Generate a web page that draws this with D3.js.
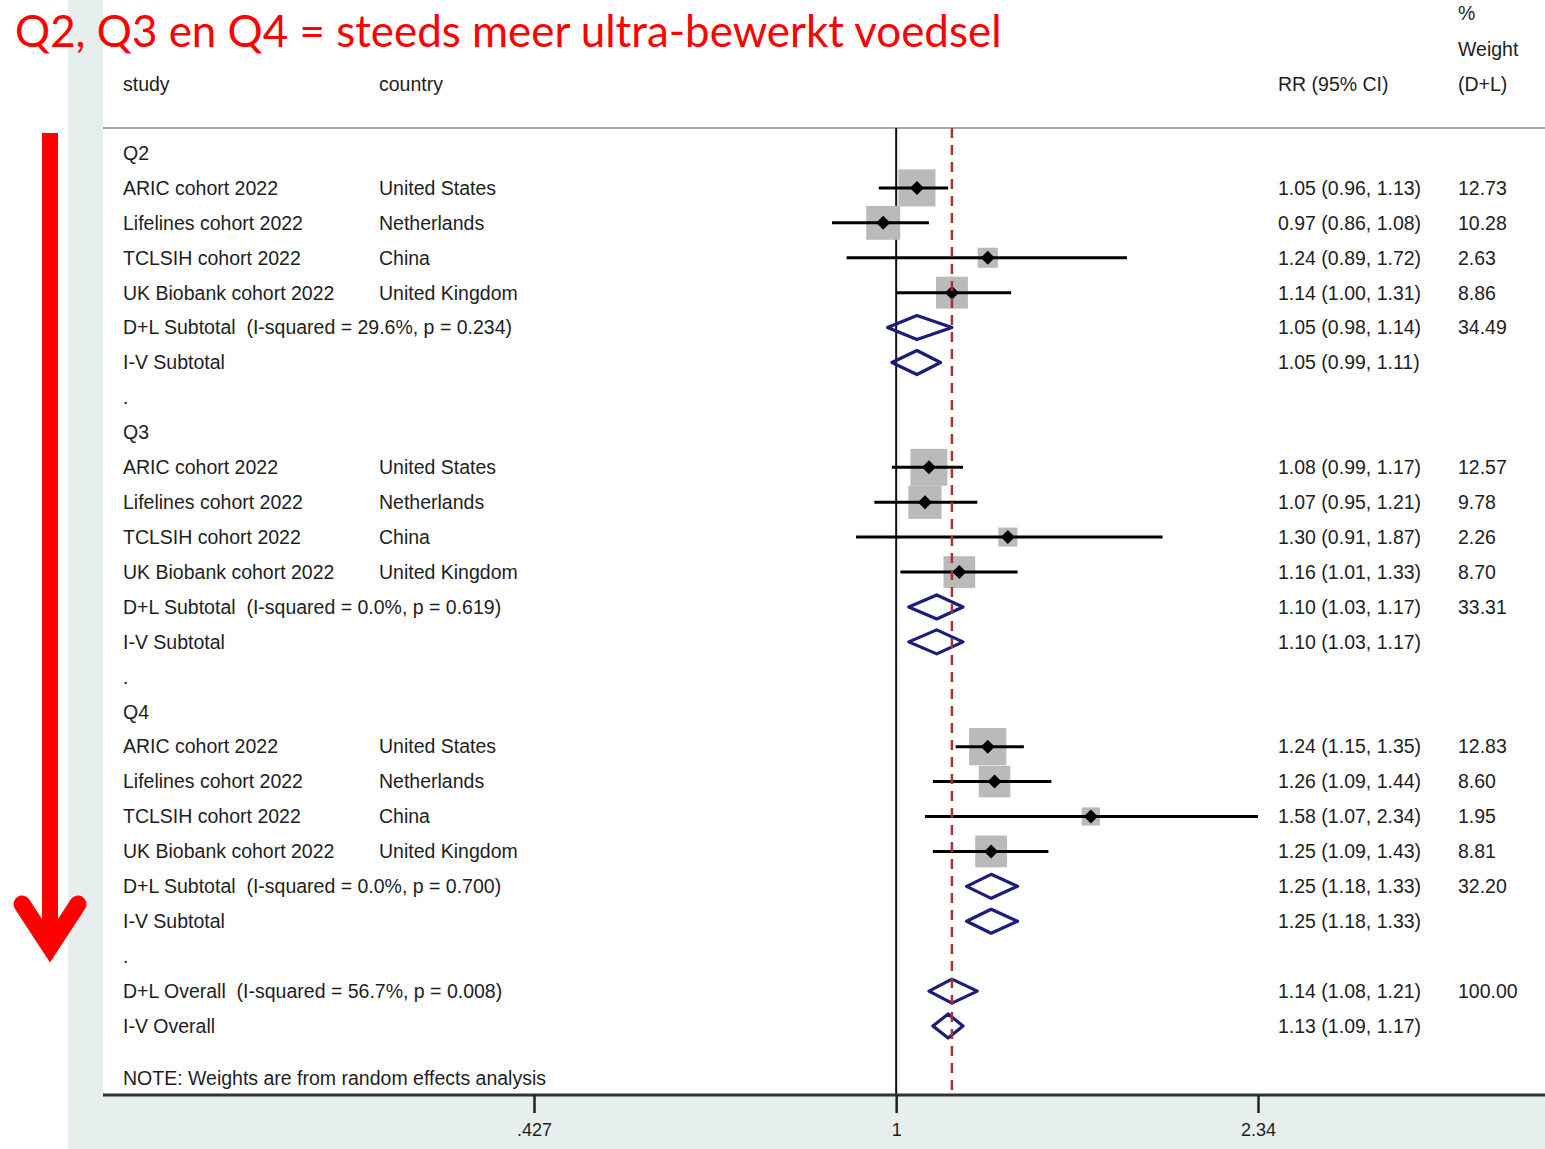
<html>
<head>
<meta charset="utf-8">
<style>
    body { margin: 0; background: #fff; }
    svg { display: block; }
    .lbl { font-family: "Liberation Sans", Arial, sans-serif; font-size: 19.5px; fill: #1e1e1e; white-space: pre; }
    .tick text { font-family: "Liberation Sans", Arial, sans-serif; font-size: 18px; fill: #1e1e1e; }
</style>
</head>
<body>
<svg width="1545" height="1149"></svg>
<script src="https://d3js.org/d3.v7.min.js"></script>
<script>
    // data
    var groups = ["Q2", "Q3", "Q4"];
    var studies = ["ARIC cohort 2022", "Lifelines cohort 2022", "TCLSIH cohort 2022", "UK Biobank cohort 2022"];
    var countries = ["United States", "Netherlands", "China", "United Kingdom"];
    var rr = [[1.05, 0.97, 1.24, 1.14], [1.08, 1.07, 1.30, 1.16], [1.24, 1.26, 1.58, 1.25]];
    var lo = [[0.96, 0.86, 0.89, 1.00], [0.99, 0.95, 0.91, 1.01], [1.15, 1.09, 1.07, 1.09]];
    var hi = [[1.13, 1.08, 1.72, 1.31], [1.17, 1.21, 1.87, 1.33], [1.35, 1.44, 2.34, 1.43]];
    var weights = [[12.73, 10.28, 2.63, 8.86], [12.57, 9.78, 2.26, 8.70], [12.83, 8.60, 1.95, 8.81]];
    var dlSub = [[1.05, 0.98, 1.14], [1.10, 1.03, 1.17], [1.25, 1.18, 1.33]];
    var dlWeight = [34.49, 33.31, 32.20];
    var ivSub = [[1.05, 0.99, 1.11], [1.10, 1.03, 1.17], [1.25, 1.18, 1.33]];
    var isq = ["29.6%", "0.0%", "0.0%"];
    var pval = ["0.234", "0.619", "0.700"];
    var overallDL = [1.14, 1.08, 1.21];
    var overallIV = [1.13, 1.09, 1.17];
    var overallHet = ["56.7%", "0.008"];
    var tickVals = [0.427, 1, 2.34];

    var svg = d3.select("svg"),
        width = +svg.attr("width"),
        height = +svg.attr("height");

    var x = d3.scaleLog().domain([0.427, 2.34]).range([534, 1258]);
    var y = d3.scaleLinear().domain([0, 25]).range([153, 1026]);
    var side = d3.scaleSqrt().domain([0, 13]).range([6, 37.4]);
    var f2 = d3.format(".2f");

    // backgrounds
    svg.append("rect").attr("x", 68).attr("y", 0).attr("width", 35).attr("height", height).attr("fill", "#e7efee");
    svg.append("rect").attr("x", 68).attr("y", 1096).attr("width", width - 68).attr("height", height - 1096).attr("fill", "#e7efee");

    // build rows
    var rows = [];
    var r = 0;
    groups.forEach(function(g, gi) {
        rows.push({row: r++, type: "head", study: g});
        studies.forEach(function(s, si) {
            rows.push({row: r++, type: "study", study: s, country: countries[si],
                est: rr[gi][si], lo: lo[gi][si], hi: hi[gi][si], w: weights[gi][si]});
        });
        rows.push({row: r++, type: "dl", study: "D+L Subtotal  (I-squared = " + isq[gi] + ", p = " + pval[gi] + ")",
            est: dlSub[gi][0], lo: dlSub[gi][1], hi: dlSub[gi][2], wtxt: f2(dlWeight[gi])});
        rows.push({row: r++, type: "iv", study: "I-V Subtotal", est: ivSub[gi][0], lo: ivSub[gi][1], hi: ivSub[gi][2]});
        rows.push({row: r++, type: "dot", study: "."});
    });
    rows.push({row: r++, type: "dl", study: "D+L Overall  (I-squared = " + overallHet[0] + ", p = " + overallHet[1] + ")",
        est: overallDL[0], lo: overallDL[1], hi: overallDL[2], wtxt: "100.00"});
    rows.push({row: r++, type: "iv", study: "I-V Overall", est: overallIV[0], lo: overallIV[1], hi: overallIV[2]});

    // header
    var hdr = svg.append("g");
    hdr.append("text").attr("class", "lbl").attr("x", 123).attr("y", 91).text("study");
    hdr.append("text").attr("class", "lbl").attr("x", 379).attr("y", 91).text("country");
    hdr.append("text").attr("class", "lbl").attr("x", 1278).attr("y", 91).text("RR (95% CI)");
    hdr.append("text").attr("class", "lbl").attr("x", 1458).attr("y", 20).text("%");
    hdr.append("text").attr("class", "lbl").attr("x", 1458).attr("y", 56).text("Weight");
    hdr.append("text").attr("class", "lbl").attr("x", 1458).attr("y", 91).text("(D+L)");
    svg.append("line").attr("x1", 103).attr("x2", width).attr("y1", 128).attr("y2", 128)
        .attr("stroke", "#a8a8a8").attr("stroke-width", 2);

    // reference line at 1
    svg.append("line").attr("x1", x(1)).attr("x2", x(1)).attr("y1", 128).attr("y2", 1095)
        .attr("stroke", "#111").attr("stroke-width", 2);

    // row labels
    var rowG = svg.selectAll("g.row").data(rows).enter().append("g").attr("class", "row")
        .attr("transform", function(d) { return "translate(0," + y(d.row) + ")"; });
    rowG.append("text").attr("class", "lbl").attr("x", 123).attr("dy", "0.35em").text(function(d) { return d.study; });
    rowG.filter(function(d) { return d.country; }).append("text").attr("class", "lbl")
        .attr("x", 379).attr("dy", "0.35em").text(function(d) { return d.country; });
    rowG.filter(function(d) { return d.est; }).append("text").attr("class", "lbl")
        .attr("x", 1278).attr("dy", "0.35em")
        .text(function(d) { return f2(d.est) + " (" + f2(d.lo) + ", " + f2(d.hi) + ")"; });
    rowG.filter(function(d) { return d.w || d.wtxt; }).append("text").attr("class", "lbl")
        .attr("x", 1458).attr("dy", "0.35em")
        .text(function(d) { return d.wtxt || f2(d.w); });

    // study marks
    var st = rowG.filter(function(d) { return d.type === "study"; });
    st.append("rect")
        .attr("x", function(d) { return x(d.est) - side(d.w) / 2; })
        .attr("y", function(d) { return -side(d.w) / 2; })
        .attr("width", function(d) { return side(d.w); })
        .attr("height", function(d) { return side(d.w); })
        .attr("fill", "#bababa");
    st.append("line")
        .attr("x1", function(d) { return x(d.lo); })
        .attr("x2", function(d) { return x(d.hi); })
        .attr("stroke", "#000").attr("stroke-width", 3);
    st.append("path")
        .attr("d", function(d) { var c = x(d.est); return "M" + (c - 7) + ",0L" + c + ",-7L" + (c + 7) + ",0L" + c + ",7Z"; })
        .attr("fill", "#000");

    // pooled diamonds
    rowG.filter(function(d) { return d.type === "dl" || d.type === "iv"; }).append("path")
        .attr("d", function(d) {
            return "M" + x(d.lo) + ",0L" + x(d.est) + ",-12L" + x(d.hi) + ",0L" + x(d.est) + ",12Z";
        })
        .attr("fill", "none").attr("stroke", "#1c1c7a").attr("stroke-width", 3.2).attr("stroke-linejoin", "round");

    // overall dashed line
    svg.append("line").attr("x1", x(overallDL[0])).attr("x2", x(overallDL[0])).attr("y1", 128).attr("y2", 1095)
        .attr("stroke", "#a3343a").attr("stroke-width", 2.5).attr("stroke-dasharray", "10,7");

    svg.append("text").attr("class", "lbl").attr("x", 123).attr("y", y(26.5)).attr("dy", "0.35em")
        .text("NOTE: Weights are from random effects analysis");

    // x axis
    svg.append("line").attr("x1", 103).attr("x2", width).attr("y1", 1095).attr("y2", 1095)
        .attr("stroke", "#333").attr("stroke-width", 3);
    var ax = svg.append("g").attr("transform", "translate(0,1095)")
        .call(d3.axisBottom(x).tickValues(tickVals).tickSize(18).tickPadding(10)
            .tickFormat(function(d) { return String(d).replace(/^0/, ""); }));
    ax.select(".domain").remove();
    ax.selectAll(".tick line").attr("stroke", "#222").attr("stroke-width", 2.5);

    // red title and arrow
    var title = svg.append("text").attr("x", 15).attr("y", 47)
        .style("font-family", "Lato, 'Open Sans', sans-serif").style("font-size", "46px").attr("fill", "#ff0000")
        .text("Q2, Q3 en Q4 = steeds meer ultra-bewerkt voedsel");
    var tl = title.node().getComputedTextLength();
    title.style("font-size", (46 * 987 / tl) + "px");

    svg.append("rect").attr("x", 42).attr("y", 133).attr("width", 16).attr("height", 810).attr("fill", "#ff0000");
    svg.append("path").attr("d", "M22,904L50,947L78,904")
        .attr("fill", "none").attr("stroke", "#ff0000").attr("stroke-width", 17)
        .attr("stroke-linecap", "round").attr("stroke-linejoin", "miter");
</script>
</body>
</html>
